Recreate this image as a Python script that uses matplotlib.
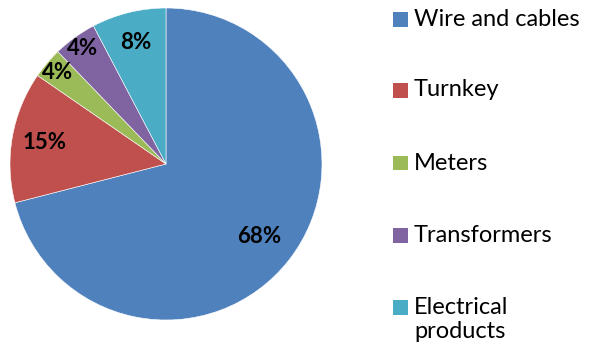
import numpy as np
import matplotlib.pyplot as plt
from matplotlib.patches import Rectangle

# slice sizes as drawn, and the labels shown on them
categories = ["Wire and cables", "Turnkey", "Meters", "Transformers", "Electrical\nproducts"]
shares = [71.0, 13.6, 3.2, 4.5, 7.7]
pct_labels = ["68%", "15%", "4%", "4%", "8%"]
colors = ["#4F81BD", "#C0504D", "#9BBB59", "#8064A2", "#4BACC6"]
label_r = [0.76, 0.79, 0.91, 0.91, 0.80]

plt.rcParams["font.family"] = ["Lato", "DejaVu Sans"]

W, H = 595, 350
fig = plt.figure(figsize=(W / 100, H / 100), dpi=100)

cx, cy, r = 166, 164, 156
ax = fig.add_axes([(cx - r) / W, (H - cy - r) / H, 2 * r / W, 2 * r / H])
wedges, _ = ax.pie(shares, colors=colors, startangle=90, counterclock=False,
                   radius=1, wedgeprops=dict(edgecolor="white", linewidth=0.4))
ax.set_xlim(-1, 1)
ax.set_ylim(-1, 1)
ax.axis("off")

for w, lab, lr in zip(wedges, pct_labels, label_r):
    mid = np.deg2rad((w.theta1 + w.theta2) / 2)
    ax.text(lr * np.cos(mid), lr * np.sin(mid), lab, ha="center", va="center",
            fontsize=16, fontweight="bold", color="black")

# legend drawn by hand so the marker sits on the first text line
row_y = [19, 90, 163, 235, 307]
for name, col, y in zip(categories, colors, row_y):
    fig.patches.append(Rectangle((393 / W, 1 - (y + 7.5) / H), 15 / W, 15 / H,
                                 transform=fig.transFigure, facecolor=col,
                                 edgecolor="none"))
    fig.text(414 / W, 1 - y / H, name.split("\n")[0], ha="left", va="center",
             fontsize=17)
    if "\n" in name:
        fig.text(414 / W, 1 - (y + 24) / H, name.split("\n")[1], ha="left",
                 va="center", fontsize=17)

fig.savefig("out.png", dpi=100)
